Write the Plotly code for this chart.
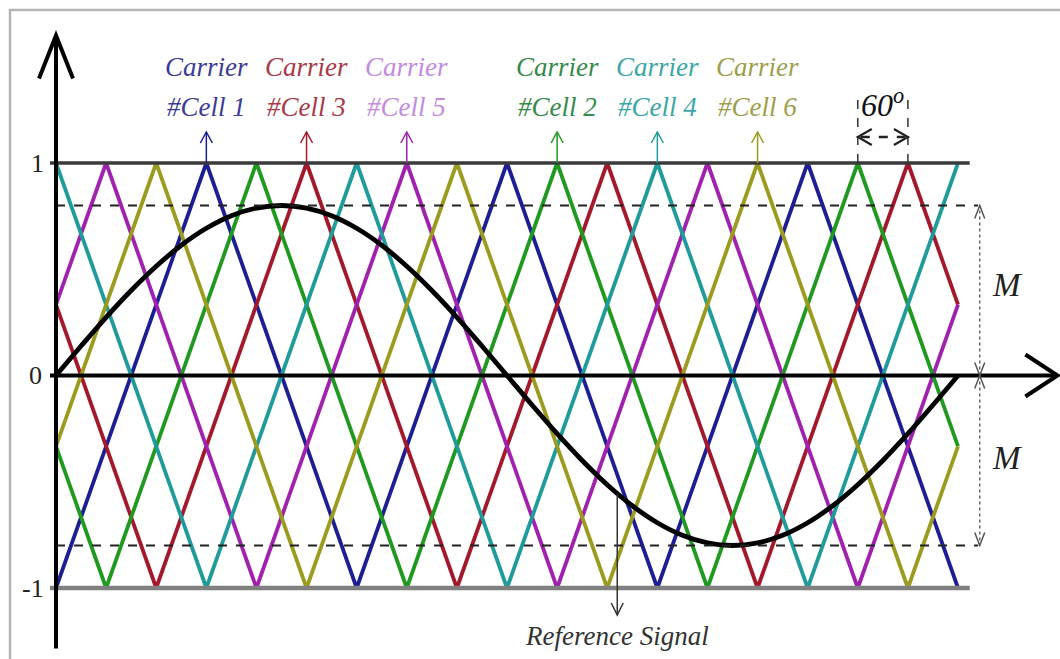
import plotly.graph_objects as go

# ---------------- data ----------------
# carriers: vertex positions (degrees) and values
carrier_names = ["Cell 1", "Cell 3", "Cell 5", "Cell 2", "Cell 4", "Cell 6"]
carrier_colors = ["#1e1e94", "#a3182a", "#a021ae", "#1f991f", "#1f9b9b", "#9b9b1f"]
label_colors = ["#3c3c98", "#a83a48", "#c48ade", "#358a4c", "#3aa6a6", "#9e9e4a"]
carrier_peak_deg = [180, 300, 420, 600, 720, 840]   # peak pointed to by each label

cell1_x = [0, 180, 360, 540, 720, 900, 1080]
cell1_y = [-1, 1, -1, 1, -1, 1, -1]
cell3_x = [0, 120, 300, 480, 660, 840, 1020, 1080]
cell3_y = [0.333, -1, 1, -1, 1, -1, 1, 0.333]
cell5_x = [0, 60, 240, 420, 600, 780, 960, 1080]
cell5_y = [0.333, 1, -1, 1, -1, 1, -1, 0.333]
cell2_x = [0, 60, 240, 420, 600, 780, 960, 1080]
cell2_y = [-0.333, -1, 1, -1, 1, -1, 1, -0.333]
cell4_x = [0, 180, 360, 540, 720, 900, 1080]
cell4_y = [1, -1, 1, -1, 1, -1, 1]
cell6_x = [0, 120, 300, 480, 660, 840, 1020, 1080]
cell6_y = [-0.333, 1, -1, 1, -1, 1, -1, -0.333]

carrier_x = [cell1_x, cell3_x, cell5_x, cell2_x, cell4_x, cell6_x]
carrier_y = [cell1_y, cell3_y, cell5_y, cell2_y, cell4_y, cell6_y]

# reference signal sampled every 30 degrees
ref_x = [i * 30 for i in range(37)]
ref_y = [0, 0.139, 0.274, 0.400, 0.514, 0.613, 0.693, 0.752, 0.788, 0.800,
         0.788, 0.752, 0.693, 0.613, 0.514, 0.400, 0.274, 0.139, 0,
         -0.139, -0.274, -0.400, -0.514, -0.613, -0.693, -0.752, -0.788, -0.800,
         -0.788, -0.752, -0.693, -0.613, -0.514, -0.400, -0.274, -0.139, 0]

M = 0.8
y_ticks = [1, 0, -1]
y_tick_labels = ["1", "0", "-1"]

# ---------------- layout geometry ----------------
W, H = 1060, 659
X0PX, XSCALE = 56, 0.8352     # px of 0 deg, px per degree
Y0PX, YSCALE = 375.5, 212.5   # px of 0, px per unit
xr = [-X0PX / XSCALE, (W - X0PX) / XSCALE]
yr = [(Y0PX - H) / YSCALE, Y0PX / YSCALE]

def dx(px):
    return px / XSCALE

def dy(px):
    return px / YSCALE

fig = go.Figure()

for i, name in enumerate(carrier_names):
    fig.add_trace(go.Scatter(x=carrier_x[i], y=carrier_y[i], mode="lines",
                             line=dict(color=carrier_colors[i], width=3.8),
                             name="Carrier #" + name, hoverinfo="skip"))

fig.add_trace(go.Scatter(x=ref_x, y=ref_y, mode="lines", line_shape="spline",
                         line=dict(color="#000000", width=4.8),
                         name="Reference Signal", hoverinfo="skip"))

shapes = []

def line(x0, y0, x1, y1, color, width, dash="solid"):
    shapes.append(dict(type="line", xref="x", yref="y", x0=x0, y0=y0, x1=x1, y1=y1,
                       line=dict(color=color, width=width, dash=dash), layer="above"))

def chevron(tx, ty, direction, length_px, half_px, color, width):
    # open arrowhead with tip at (tx, ty)
    if direction == "up":
        p = [(tx - dx(half_px), ty - dy(length_px)), (tx, ty), (tx + dx(half_px), ty - dy(length_px))]
    elif direction == "down":
        p = [(tx - dx(half_px), ty + dy(length_px)), (tx, ty), (tx + dx(half_px), ty + dy(length_px))]
    elif direction == "right":
        p = [(tx - dx(length_px), ty + dy(half_px)), (tx, ty), (tx - dx(length_px), ty - dy(half_px))]
    else:
        p = [(tx + dx(length_px), ty + dy(half_px)), (tx, ty), (tx + dx(length_px), ty - dy(half_px))]
    path = "M {} {} L {} {} L {} {}".format(p[0][0], p[0][1], p[1][0], p[1][1], p[2][0], p[2][1])
    shapes.append(dict(type="path", xref="x", yref="y", path=path,
                       line=dict(color=color, width=width), layer="above"))

# frame
shapes.append(dict(type="rect", xref="paper", yref="paper", x0=10 / W, x1=1.02,
                   y0=-0.02, y1=1 - 10 / H, line=dict(color="#b5b5b5", width=2.5),
                   fillcolor="rgba(0,0,0,0)", layer="below"))

# +/-1 lines
line(dx(-6), 1, 1094, 1, "#3a3a3a", 3.5)
line(dx(-6), -1, 1094, -1, "#808080", 4.5)
# M dashed levels
line(0, M, 1104, M, "#222222", 2, "dash")
line(0, -M, 1104, -M, "#222222", 2, "dash")

# axes
line(dx(-6), 0, 1199, 0, "#000000", 4)
chevron(1199, 0, "right", 32, 21, "#000000", 4)
line(0, dy(-273), 0, dy(340), "#000000", 4)
chevron(0, dy(340), "up", 43, 17, "#000000", 4)

# M arrows
xm = 1106
line(xm, 0, xm, M, "#666666", 1.5, "dot")
line(xm, 0, xm, -M, "#666666", 1.5, "dot")
for ty, d in [(M, "up"), (0, "down"), (0, "up"), (-M, "down")]:
    chevron(xm, ty, d, 13, 5, "#555555", 1.5)

# 60 degree marker
line(960, 1, 960, 1 + dy(63), "#333333", 1.5, "dash")
line(1020, 1, 1020, 1 + dy(63), "#333333", 1.5, "dash")
y60 = 1 + dy(26)
line(960 + dx(3), y60, 1020 - dx(3), y60, "#222222", 2.5, "dash")
chevron(960, y60, "left", 14, 8, "#222222", 2.2)
chevron(1020, y60, "right", 14, 8, "#222222", 2.2)

# carrier arrows
for i, xp in enumerate(carrier_peak_deg):
    tip = 1 + dy(31)
    line(xp, 1, xp, tip, carrier_colors[i], 1.5)
    chevron(xp, tip, "up", 11, 6, carrier_colors[i], 1.5)

# reference signal arrow
xr_sig = 672
line(xr_sig, -0.556, xr_sig, -1 - dy(27), "#333333", 1.5)
chevron(xr_sig, -1 - dy(27), "down", 12, 6, "#333333", 1.5)

annotations = []
serif = "Liberation Serif, Times New Roman, serif"
for i, name in enumerate(carrier_names):
    xp = carrier_peak_deg[i]
    annotations.append(dict(x=xp, y=dy(Y0PX - 67), text="<i>Carrier</i>", showarrow=False,
                            font=dict(family=serif, size=27, color=label_colors[i])))
    annotations.append(dict(x=xp, y=dy(Y0PX - 107), text="<i>#" + name + "</i>", showarrow=False,
                            font=dict(family=serif, size=27, color=label_colors[i])))

annotations.append(dict(x=990, y=dy(Y0PX - 103), text="<i>60<sup>o</sup></i>", showarrow=False,
                        font=dict(family=serif, size=32, color="#111111")))
annotations.append(dict(x=dx(1007 - X0PX), y=dy(Y0PX - 285), text="<i>M</i>", showarrow=False,
                        font=dict(family=serif, size=33, color="#222222")))
annotations.append(dict(x=dx(1007 - X0PX), y=dy(Y0PX - 458), text="<i>M</i>", showarrow=False,
                        font=dict(family=serif, size=33, color="#222222")))
annotations.append(dict(x=xr_sig, y=dy(Y0PX - 636), text="<i>Reference Signal</i>", showarrow=False,
                        font=dict(family=serif, size=27, color="#333333")))

tick_px_x = [37, 35, 33]
for v, lab, px in zip(y_ticks, y_tick_labels, tick_px_x):
    annotations.append(dict(x=dx(px - X0PX), y=v, text=lab, showarrow=False,
                            font=dict(family=serif, size=26, color="#222222")))

fig.update_layout(
    width=W, height=H,
    margin=dict(l=0, r=0, t=0, b=0),
    paper_bgcolor="white", plot_bgcolor="white",
    showlegend=False,
    xaxis=dict(visible=False, range=xr, fixedrange=True),
    yaxis=dict(visible=False, range=yr, fixedrange=True),
    shapes=shapes,
    annotations=annotations,
)

fig.write_html("out.html")
